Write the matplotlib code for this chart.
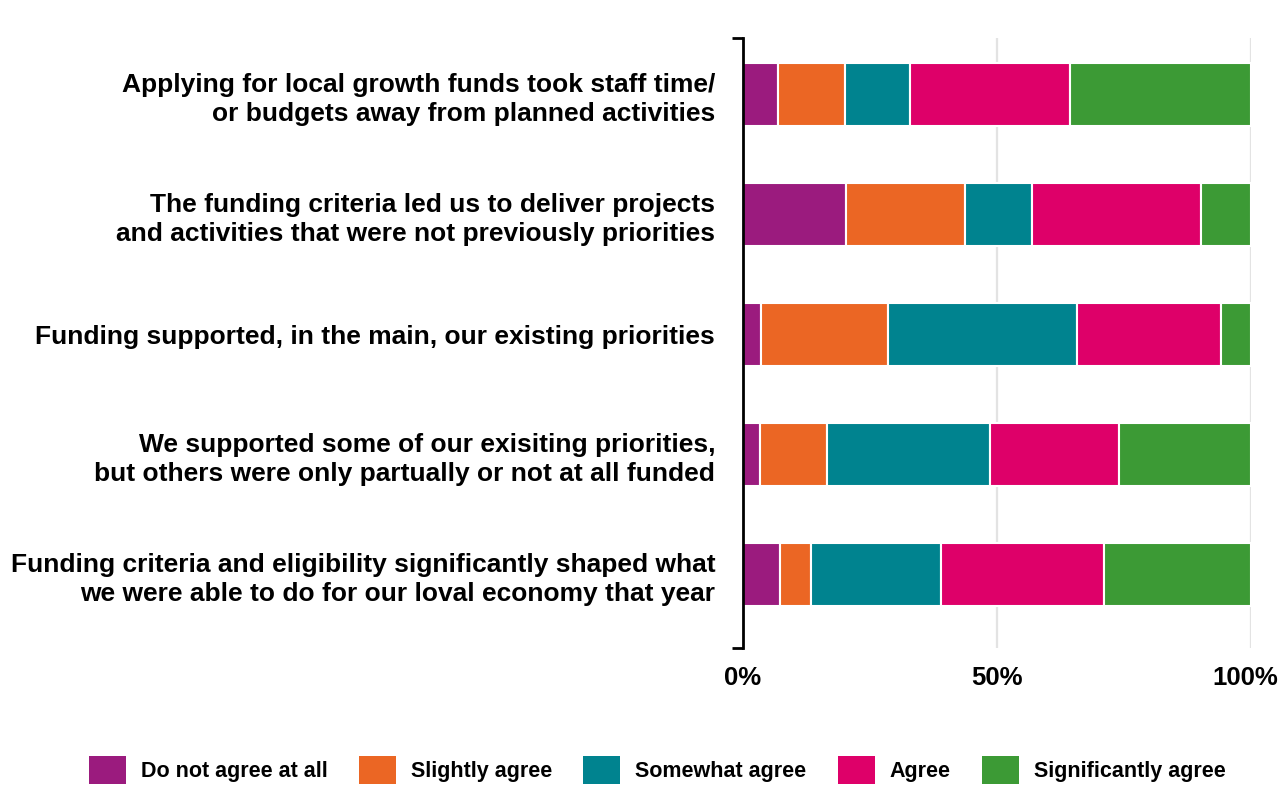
import numpy as np
import matplotlib.pyplot as plt
import matplotlib.transforms as mtransforms
from matplotlib.patches import Patch

plt.rcParams['font.family'] = ['Liberation Sans', 'DejaVu Sans']
plt.rcParams['font.weight'] = 'bold'

statements = [
    'Applying for local growth funds took staff time/\nor budgets away from planned activities',
    'The funding criteria led us to deliver projects\nand activities that were not previously priorities',
    'Funding supported, in the main, our existing priorities',
    'We supported some of our exisiting priorities,\nbut others were only partually or not at all funded',
    'Funding criteria and eligibility significantly shaped what\nwe were able to do for our loval economy that year',
]
responses = ['Do not agree at all', 'Slightly agree', 'Somewhat agree',
             'Agree', 'Significantly agree']
colors = ['#9B1B7E', '#EB6624', '#00838F', '#DE0069', '#3C9A35']

# share of respondents (%) per statement, one list per response level
do_not_agree = [6.8, 20.3, 3.5, 3.4, 7.3]
slightly = [13.2, 23.4, 25.0, 13.1, 6.1]
somewhat = [12.8, 13.2, 37.2, 32.1, 25.5]
agree = [31.6, 33.3, 28.4, 25.5, 32.1]
significantly = [35.6, 9.8, 5.9, 25.9, 29.0]

series = [do_not_agree, slightly, somewhat, agree, significantly]

fig = plt.figure(figsize=(12.81, 7.87), dpi=100)
ax = fig.add_axes([0.58, 0.1766, 0.3966, 0.7751])

y = np.arange(len(statements))
left = np.zeros(len(statements))
for vals, col, name in zip(series, colors, responses):
    vals = np.array(vals)
    ax.barh(y, vals, left=left, height=0.525, color=col,
            edgecolor='white', linewidth=1.5, label=name, zorder=3)
    left += vals

ax.set_xlim(0, 100)
ax.set_ylim(4.61, -0.47)

ax.set_xticks([0, 50, 100])
ax.set_xticklabels(['0%', '50%', '100%'])
ax.tick_params(axis='x', length=0, pad=13, labelsize=18.5)
# pull the last label in a little so it stays inside the figure
last = ax.get_xticklabels()[-1]
last.set_transform(last.get_transform() +
                   mtransforms.ScaledTranslation(-4 / 72, 0, fig.dpi_scale_trans))
for xv in (50, 100):
    ax.axvline(xv, color='#e3e3e3', lw=1.6, zorder=1)

ax.set_yticks(y)
ax.set_yticklabels(statements, fontsize=19, linespacing=1.25)
ax.tick_params(axis='y', length=0, pad=20)
# small end caps on the category axis
ax.set_yticks([4.61, -0.47], minor=True)
ax.tick_params(axis='y', which='minor', length=8, width=2, color='black')

for s in ('top', 'right', 'bottom'):
    ax.spines[s].set_visible(False)
ax.spines['left'].set_linewidth(2)
ax.spines['left'].set_color('black')
ax.spines['left'].set_zorder(5)

handles = [Patch(facecolor=c, edgecolor='none') for c in colors]
fig.legend(handles, responses, loc='center', ncol=5,
           bbox_to_anchor=(0.513, 0.0216), frameon=False, fontsize=15.5,
           handlelength=1.72, handleheight=1.67, handletextpad=0.7,
           columnspacing=1.45)

fig.savefig('out.png', dpi=100)
